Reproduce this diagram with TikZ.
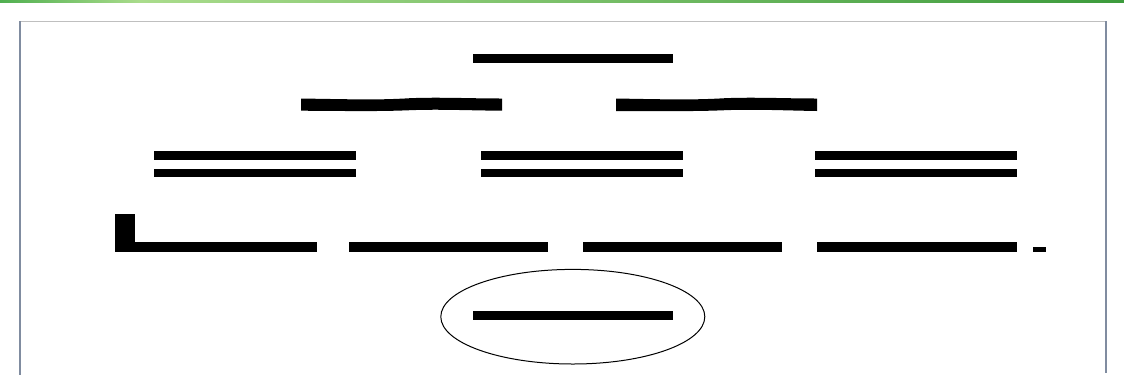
\documentclass[tikz,border=0pt]{standalone}
\begin{document}
\begin{tikzpicture}[x=1pt,y=-1pt,
  bar/.style={fill=black},
  frameh/.style={draw=black!25,line width=1.2pt},
  framev/.style={draw={rgb,255:red,128;green,140;blue,160},line width=2.2pt}]
\useasboundingbox (0,0) rectangle (1124,389);
\fill[white] (0,0) rectangle (1124,389);
% green top bar
\shade[left color={rgb,255:red,80;green,175;blue,80},right color={rgb,255:red,170;green,220;blue,140}] (0,0) rectangle (140,2.6);
\shade[left color={rgb,255:red,170;green,220;blue,140},right color={rgb,255:red,60;green,155;blue,60}] (140,0) rectangle (1124,2.6);
% frame
\draw[frameh] (19,21.6) -- (1106,21.6);
\draw[framev] (20,21) -- (20,375);
\draw[framev] (1106,21) -- (1106,373);
% row 1
\fill[bar] (473,54) rectangle (673,63);
% row 2 wavy bars
\fill[bar] (301,98.5) .. controls (360,99.5) and (380,100) .. (410,98.2) .. controls (440,97) and (470,98.5) .. (502,98.5)
  -- (502,110.7) .. controls (470,110.5) and (440,109) .. (410,110.2) .. controls (380,111.5) and (350,111) .. (301,110.7) -- cycle;
\fill[bar] (616,98.5) .. controls (670,99.5) and (695,100) .. (725,98.2) .. controls (755,97) and (785,98.5) .. (817,98.5)
  -- (817,111) .. controls (785,110.5) and (755,109) .. (725,110.2) .. controls (695,111.5) and (665,111) .. (616,111) -- cycle;
% row 3 double bars
\foreach \x in {154,481,815}{
  \fill[bar] (\x,151) rectangle ++(202,9);
  \fill[bar] (\x,168.5) rectangle ++(202,8.8);
}
% row 4
\fill[bar] (115,214) rectangle (135,251.7);
\fill[bar] (115,241.7) rectangle (316.7,251.7);
\fill[bar] (349,242) rectangle (548,251.5);
\fill[bar] (583,242) rectangle (782,251.5);
\fill[bar] (817,242) rectangle (1016.7,251.5);
\fill[bar] (1032.7,246.7) rectangle (1046,251.7);
% ellipse with bar
\draw[line width=1pt] (572.8,316.7) ellipse [x radius=132, y radius=47.3];
\fill[bar] (472.7,310.7) rectangle (673.3,320);
\end{tikzpicture}
\end{document}
